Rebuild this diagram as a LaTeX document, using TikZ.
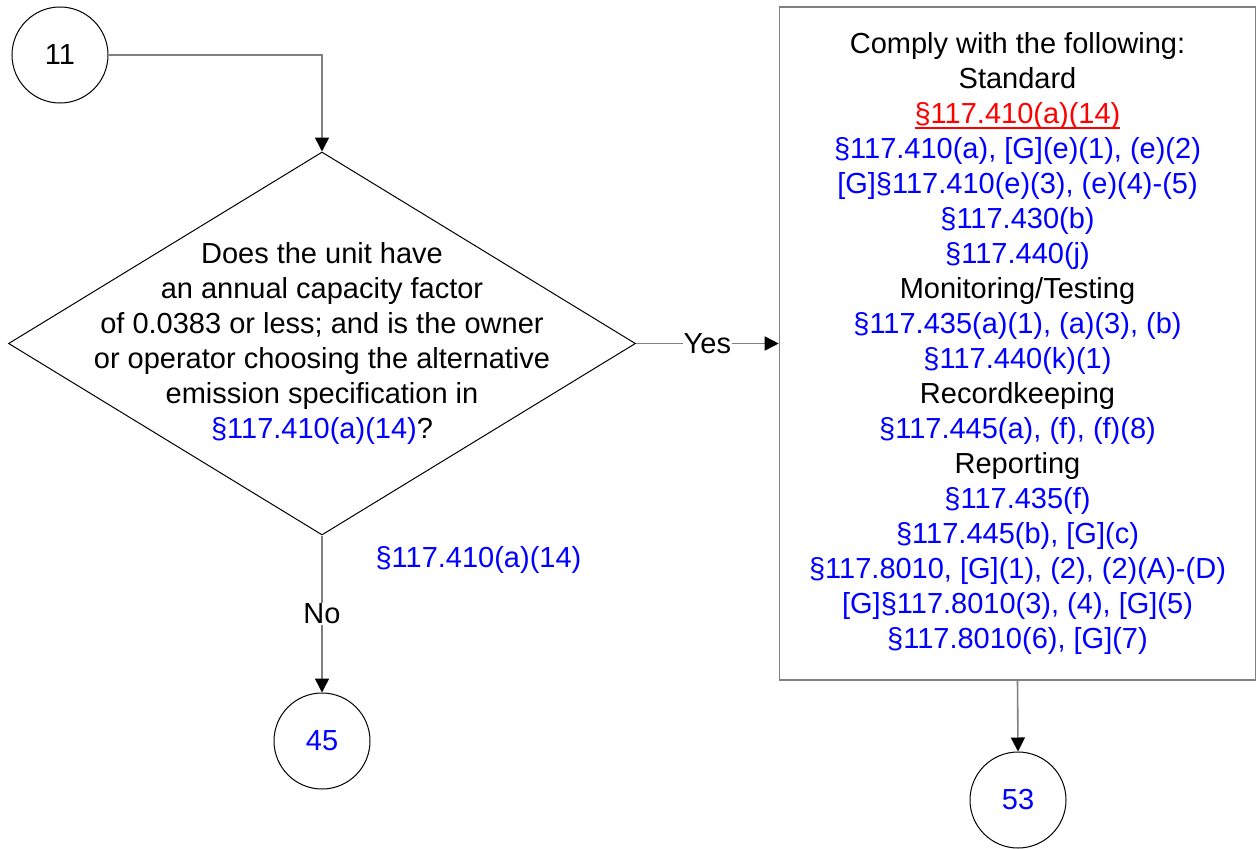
\documentclass[tikz,border=0pt]{standalone}
\usepackage{fontspec}
\setmainfont{Liberation Sans}
\usetikzlibrary{shapes.geometric,arrows.meta}
\definecolor{refblue}{RGB}{0,0,255}
\definecolor{refred}{RGB}{255,0,0}
\definecolor{linegray}{RGB}{128,128,128}
\newcommand{\sect}[1]{\textcolor{refblue}{#1}}
\newlength{\ulwd}
\newcommand{\ulref}[1]{\settowidth{\ulwd}{#1}\rlap{\rule[-5pt]{\ulwd}{2pt}}#1}

\begin{document}
\begin{tikzpicture}[x=1pt,y=-1pt,
	every node/.style={font=\fontsize{29}{35}\selectfont},
	conn/.style={draw=linegray,line width=1.6pt},
	arr/.style={conn,-{Triangle[length=14pt,width=14pt,color=black]}},
	offpage/.style={circle,draw=black,line width=1pt,minimum size=96pt,inner sep=0pt},
	lbl/.style={fill=white,inner sep=1pt}]
	\useasboundingbox (0,0) rectangle (1257,848);
	\node[offpage] (c11) at (60,55) {11};
	\node[diamond,draw=black,line width=1pt,minimum width=627pt,minimum height=383pt,inner sep=0pt] (q) at (322,343.5) {};
	\node[align=center] (qtext) at (322,343) {Does the unit have\\an annual capacity factor\\of 0.0383 or less; and is the owner\\or operator choosing the alternative\\emission specification in\\\sect{§117.410(a)(14)}?};
	\node[draw=linegray,line width=1.6pt,minimum width=476pt,minimum height=673pt,align=center] (std) at (1017.5,343.5) {Comply with the following:\\Standard\\\textcolor{refred}{\ulref{§117.410(a)(14)}}\\\sect{§117.410(a), [G](e)(1), (e)(2)}\\\sect{[G]§117.410(e)(3), (e)(4)-(5)}\\\sect{§117.430(b)}\\\sect{§117.440(j)}\\Monitoring/Testing\\\sect{§117.435(a)(1), (a)(3), (b)}\\\sect{§117.440(k)(1)}\\Recordkeeping\\\sect{§117.445(a), (f), (f)(8)}\\Reporting\\\sect{§117.435(f)}\\\sect{§117.445(b), [G](c)}\\\sect{§117.8010, [G](1), (2), (2)(A)-(D)}\\\sect{[G]§117.8010(3), (4), [G](5)}\\\sect{§117.8010(6), [G](7)}};
	\node[offpage] (c45) at (322,741) {\sect{45}};
	\node[offpage] (c53) at (1018,800) {\sect{53}};
	\node[anchor=west,text=refblue] (noref) at (372,560) {§117.410(a)(14)};
	\draw[arr] (c11.east) -| (q.north);
	\draw[arr] (q.east) -- node[lbl] (yes) {Yes} (std.west);
	\draw[arr] (q.south) -- node[lbl] (no) {No} (c45.north);
	\draw[arr] (std.south) -- (c53.north);
\end{tikzpicture}
\end{document}
